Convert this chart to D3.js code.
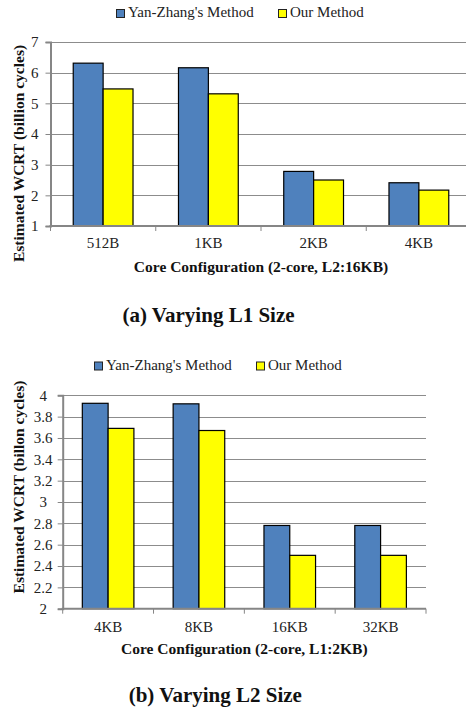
<!DOCTYPE html>
<html>
<head>
<meta charset="utf-8">
<script src="https://cdn.jsdelivr.net/npm/d3@7"></script>
<style>
  html, body { margin: 0; padding: 0; background: #fff; }
</style>
</head>
<body>
<svg id="chart" width="466" height="713" font-family="Liberation Serif"></svg>
<script>
// ---- Data ----
const seriesNames = ["Yan-Zhang's Method", "Our Method"];
const seriesColors = ["#4F81BD", "#FFFF00"];

const catsA = ["512B", "1KB", "2KB", "4KB"];
const yanZhangA = [6.31, 6.16, 2.78, 2.41];
const oursA = [5.47, 5.31, 2.50, 2.17];
const yTicksA = [1, 2, 3, 4, 5, 6, 7];

const catsB = ["4KB", "8KB", "16KB", "32KB"];
const yanZhangB = [3.925, 3.92, 2.78, 2.78];
const oursB = [3.69, 3.67, 2.50, 2.50];
const yTicksB = [2, 2.2, 2.4, 2.6, 2.8, 3, 3.2, 3.4, 3.6, 3.8, 4];

const FONT = "Liberation Serif";
const svg = d3.select("#chart");

function drawPanel(cfg) {
  const { cats, values, yTicks, yDomain, left, right, top, bottom,
          xTitle, yTitle, yTitleCenter, xTitleBaseline, catBaseline,
          legendY, legendX, caption, captionX, captionY, tickAnchor, tickX } = cfg;
  const g = svg.append("g");

  const x = d3.scaleBand().domain(cats).range([left, right]).padding(0);
  const bw = x.bandwidth();
  const xs = d3.scaleBand().domain(seriesNames).range([bw * 0.216, bw * 0.784]).padding(0);
  const y = d3.scaleLinear().domain(yDomain).range([bottom, top]);

  // gridlines
  g.append("g").selectAll("line").data(yTicks.slice(1)).join("line")
    .attr("x1", left).attr("x2", right)
    .attr("y1", d => Math.round(y(d)) + 0.5).attr("y2", d => Math.round(y(d)) + 0.5)
    .attr("stroke", "#8c8c8c").attr("stroke-width", 1);

  // bars
  const rows = cats.map((c, i) => ({ c, vals: values.map(v => v[i]) }));
  const grp = g.append("g").selectAll("g").data(rows).join("g")
    .attr("transform", d => `translate(${x(d.c)},0)`);
  grp.selectAll("rect").data(d => d.vals.map((v, j) => ({ v, j }))).join("rect")
    .attr("x", d => xs(seriesNames[d.j]))
    .attr("width", xs.bandwidth())
    .attr("y", d => y(d.v))
    .attr("height", d => y(yDomain[0]) - y(d.v))
    .attr("fill", d => seriesColors[d.j])
    .attr("stroke", "#000").attr("stroke-width", 1.2);

  // y axis
  const ya = d3.axisLeft(y).tickValues(yTicks).tickSize(5).tickPadding(7)
    .tickFormat(d3.format("~g"));
  const yg = g.append("g").attr("transform", `translate(${left},0)`).call(ya)
    .attr("font-family", FONT);
  yg.select(".domain").attr("stroke", "#868686").attr("stroke-width", 2);
  yg.selectAll(".tick line").attr("stroke", "#868686");
  yg.selectAll(".tick text").attr("font-size", 15).attr("fill", "#222")
    .attr("font-family", FONT)
    .attr("text-anchor", tickAnchor).attr("x", tickX);

  // x axis line + tick marks at band boundaries
  g.append("line").attr("x1", left - 1).attr("x2", right)
    .attr("y1", bottom).attr("y2", bottom)
    .attr("stroke", "#868686").attr("stroke-width", 2);
  const bounds = cats.map(c => x(c)).concat([right]);
  g.append("g").selectAll("line").data(bounds).join("line")
    .attr("x1", d => d).attr("x2", d => d)
    .attr("y1", bottom).attr("y2", bottom + 5)
    .attr("stroke", "#868686").attr("stroke-width", 1);

  // category labels
  g.append("g").selectAll("text").data(cats).join("text")
    .attr("x", d => x(d) + bw / 2).attr("y", catBaseline)
    .attr("text-anchor", "middle").attr("font-size", 15).attr("fill", "#222")
    .attr("font-family", FONT)
    .text(d => d);

  // x title
  g.append("text").attr("x", (left + right) / 2).attr("y", xTitleBaseline)
    .attr("text-anchor", "middle").attr("font-size", 15.5).attr("font-weight", "bold")
    .attr("font-family", FONT)
    .attr("fill", "#111").text(xTitle);

  // y title
  g.append("text").attr("transform", `translate(24,${yTitleCenter}) rotate(-90)`)
    .attr("text-anchor", "middle").attr("font-size", 15.5).attr("font-weight", "bold")
    .attr("font-family", FONT)
    .attr("fill", "#111").text(yTitle);

  // legend
  const lg = g.append("g").selectAll("g").data(seriesNames).join("g")
    .attr("transform", (d, i) => `translate(${legendX[i]},${legendY})`);
  lg.append("rect").attr("x", 0.5).attr("y", -7.5).attr("width", 8).attr("height", 8)
    .attr("fill", (d, i) => seriesColors[i]).attr("stroke", "#222").attr("stroke-width", 1);
  lg.append("text").attr("x", 12).attr("y", 0).attr("font-size", 15).attr("fill", "#222")
    .attr("font-family", FONT)
    .text(d => d);

  // caption
  g.append("text").attr("x", captionX).attr("y", captionY).attr("text-anchor", "middle")
    .attr("font-family", FONT)
    .attr("font-size", 21).attr("font-weight", "bold").attr("fill", "#111").text(caption);
}

drawPanel({
  cats: catsA, values: [yanZhangA, oursA], yTicks: yTicksA, yDomain: [1, 7],
  left: 50.5, right: 471.5, top: 42, bottom: 226,
  xTitle: "Core Configuration (2-core, L2:16KB)",
  yTitle: "Estimated WCRT (billion cycles)", yTitleCenter: 153.5,
  xTitleBaseline: 271.5, catBaseline: 248,
  legendY: 17, legendX: [116, 278],
  caption: "(a) Varying L1 Size", captionX: 208.5, captionY: 322,
  tickAnchor: "end", tickX: -12
});

drawPanel({
  cats: catsB, values: [yanZhangB, oursB], yTicks: yTicksB, yDomain: [2, 4],
  left: 62.7, right: 426, top: 395.3, bottom: 608.7,
  xTitle: "Core Configuration (2-core, L1:2KB)",
  yTitle: "Estimated WCRT (billon cycles)", yTitleCenter: 487,
  xTitleBaseline: 654, catBaseline: 631.5,
  legendY: 369.5, legendX: [94, 256],
  caption: "(b) Varying L2 Size", captionX: 215.3, captionY: 701.5,
  tickAnchor: "middle", tickX: -19.5
});
</script>
</body>
</html>
